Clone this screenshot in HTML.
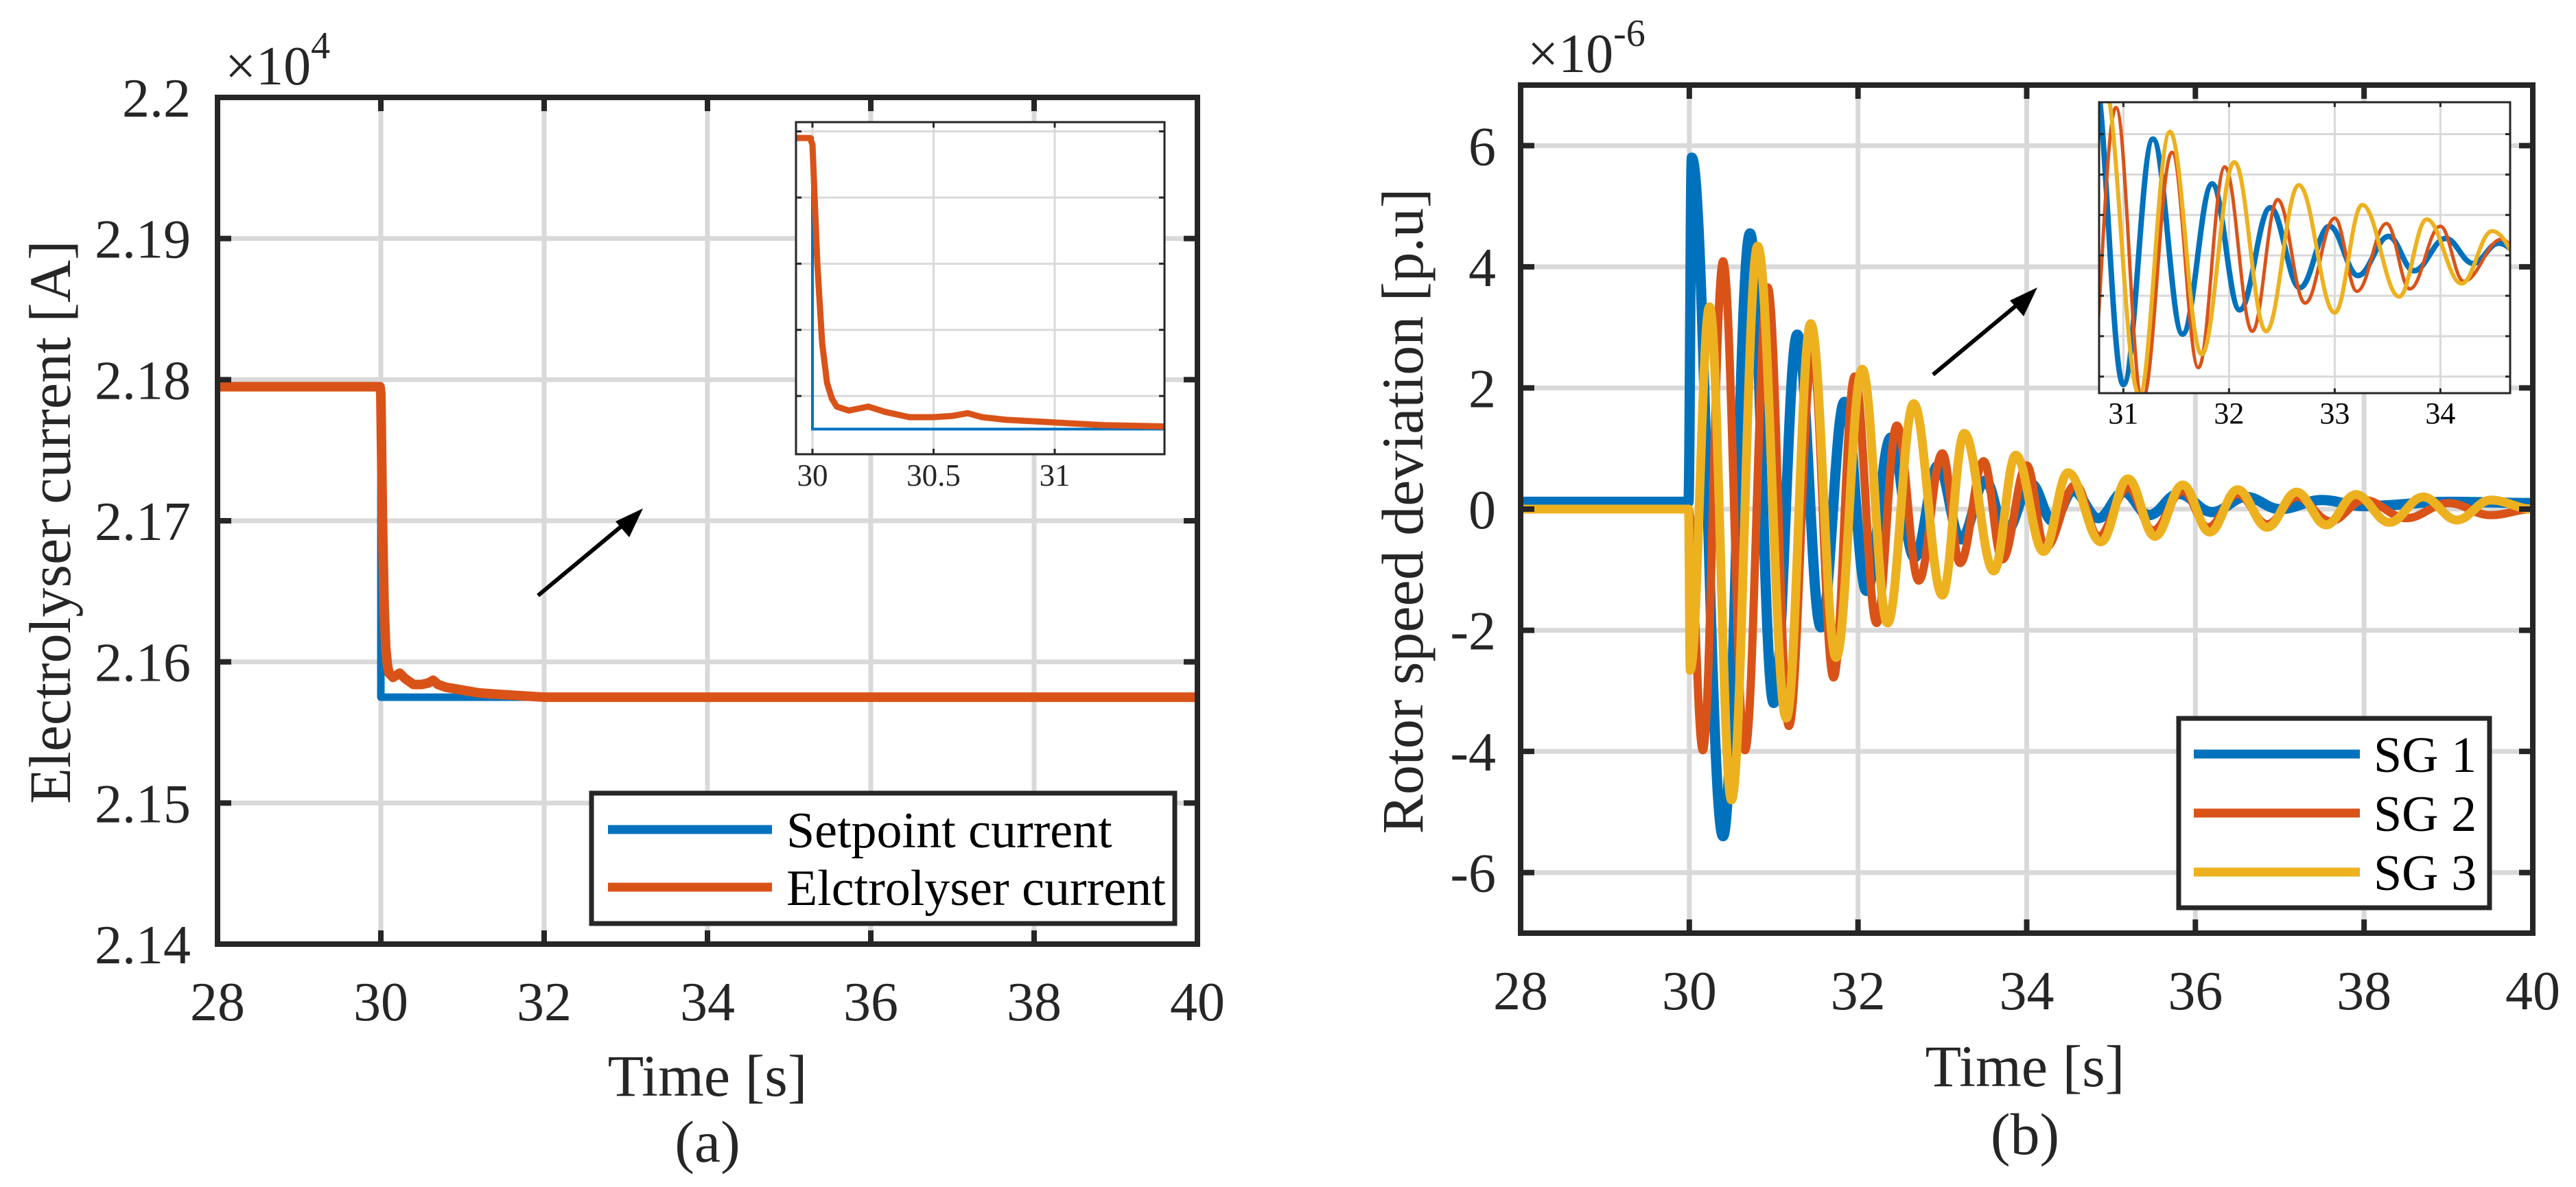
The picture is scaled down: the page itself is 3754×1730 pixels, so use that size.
<!DOCTYPE html>
<html><head><meta charset="utf-8">
<style>
html,body{margin:0;padding:0;background:#fff;}
svg{display:block;font-family:"Liberation Serif",serif;}
</style></head>
<body>
<svg id="fig" xmlns="http://www.w3.org/2000/svg" width="3754" height="1730" viewBox="0 0 3754 1730">
<defs>
<clipPath id="clipA"><rect x="317" y="142" width="1428" height="1234"/></clipPath>
<clipPath id="clipAi"><rect x="1160" y="178" width="537" height="484"/></clipPath>
<clipPath id="clipB"><rect x="2216" y="124" width="1475" height="1236"/></clipPath>
<clipPath id="clipBi"><rect x="3059" y="149" width="599" height="424"/></clipPath>
</defs>
<g id="panelA"></g>
<g id="panelB"></g>
</svg>
<script>
// ---------- Panel (a) data ----------
const aXTicks = [28, 30, 32, 34, 36, 38, 40];
const aYTicks = [2.14, 2.15, 2.16, 2.17, 2.18, 2.19, 2.2];
const aYTickLabels = ["2.14", "2.15", "2.16", "2.17", "2.18", "2.19", "2.2"];
const aInsetXTicks = [30, 30.5, 31];
const aInsetXTickLabels = ["30", "30.5", "31"];
const aInsetYGrid = [21600, 21650, 21700, 21750, 21800];
const setpointT = [28, 30.0, 30.0, 40];
const setpointV = [21795, 21795, 21575, 21575];
const elecT = [28, 29.99, 30.0, 30.02, 30.04, 30.06, 30.08, 30.1, 30.15, 30.23, 30.3, 30.4, 30.5, 30.58, 30.64, 30.7, 30.8, 31.0, 31.2, 31.45, 32.0, 40];
const elecV = [21795, 21795, 21790, 21700, 21640, 21610, 21598, 21592, 21589, 21592, 21588, 21584, 21584, 21585, 21587, 21584, 21582, 21580, 21578, 21577, 21575, 21575];

// ---------- Panel (b) data ----------
const bXTicks = [28, 30, 32, 34, 36, 38, 40];
const bYTicks = [-6, -4, -2, 0, 2, 4, 6];
const bYTickLabels = ["-6", "-4", "-2", "0", "2", "4", "6"];
const bInsetXTicks = [31, 32, 33, 34];
const bInsetYGrid = [-3, -2, -1, 0, 1, 2, 3];
const sg1T = [28, 29, 29.99, 30.03, 30.4, 30.72, 31.0, 31.28, 31.56, 31.84, 32.1, 32.39, 32.67, 32.95, 33.22, 33.51, 33.75, 34.05, 34.31, 34.55, 34.85, 35.15, 35.45, 35.8, 36.2, 36.6, 37.0, 37.5, 38, 39, 40];
const sg1V = [0.12, 0.12, 0.12, 5.8, -5.4, 4.55, -3.2, 2.88, -1.95, 1.77, -1.35, 1.18, -0.8, 0.72, -0.5, 0.47, -0.38, 0.42, -0.2, 0.3, -0.15, 0.28, -0.1, 0.25, -0.05, 0.2, 0.0, 0.15, 0.05, 0.12, 0.1];
const sg2T = [28, 29.99, 30.16, 30.4, 30.66, 30.93, 31.18, 31.46, 31.71, 31.96, 32.22, 32.46, 32.72, 33.0, 33.21, 33.49, 33.71, 34.0, 34.22, 34.58, 34.85, 35.2, 35.5, 35.85, 36.15, 36.5, 36.85, 37.2, 37.6, 38.0, 38.5, 39.0, 39.5, 40];
const sg2V = [0, 0, -3.98, 4.09, -3.98, 3.66, -3.58, 2.55, -2.78, 2.19, -1.88, 1.38, -1.18, 0.92, -0.89, 0.79, -0.83, 0.72, -0.64, 0.4, -0.45, 0.35, -0.35, 0.3, -0.3, 0.25, -0.25, 0.2, -0.2, 0.15, -0.15, 0.1, -0.1, 0];
const sg3T = [28, 29.99, 30.01, 30.24, 30.5, 30.81, 31.15, 31.44, 31.74, 32.05, 32.35, 32.66, 33.0, 33.26, 33.61, 33.87, 34.2, 34.49, 34.88, 35.2, 35.52, 35.85, 36.17, 36.5, 36.85, 37.2, 37.55, 37.9, 38.3, 38.7, 39.1, 39.5, 40];
const sg3V = [0, 0, -2.66, 3.34, -4.8, 4.34, -3.45, 3.06, -2.45, 2.31, -1.88, 1.74, -1.42, 1.25, -1.02, 0.89, -0.7, 0.6, -0.54, 0.5, -0.45, 0.4, -0.38, 0.32, -0.3, 0.28, -0.26, 0.24, -0.22, 0.2, -0.18, 0.15, 0];

const NS = "http://www.w3.org/2000/svg";
const AX = "#262626", GRID = "#d9d9d9";
const BLUE = "#0072BD", ORANGE = "#D95319", YELLOW = "#EDB120";

function mk(parent, tag, attrs, text) {
  const e = document.createElementNS(NS, tag);
  for (const k in attrs) e.setAttribute(k, attrs[k]);
  if (text !== undefined) e.textContent = text;
  parent.appendChild(e);
  return e;
}
function lin(d0, d1, r0, r1) { return v => r0 + (v - d0) / (d1 - d0) * (r1 - r0); }

function polyPath(T, V, sx, sy) {
  return T.map((t, i) => (i ? "L" : "M") + sx(t).toFixed(1) + "," + sy(V[i]).toFixed(1)).join("");
}
// smooth curve through extrema: horizontal tangents at every data point
function smoothPath(T, V, sx, sy) {
  const p = T.map((t, i) => [sx(t), sy(V[i])]);
  let d = "M" + p[0][0].toFixed(1) + "," + p[0][1].toFixed(1);
  for (let i = 0; i < p.length - 1; i++) {
    const p1 = p[i], p2 = p[i + 1], dx = (p2[0] - p1[0]) / 2.6;
    d += "C" + (p1[0] + dx).toFixed(1) + "," + p1[1].toFixed(1) + " " + (p2[0] - dx).toFixed(1) + "," + p2[1].toFixed(1) + " " + p2[0].toFixed(1) + "," + p2[1].toFixed(1);
  }
  return d;
}

// ================= PANEL A =================
(function () {
  const g = document.getElementById("panelA");
  const L = 317, R = 1745, T = 142, B = 1376;
  const sx = lin(28, 40, L, R), sy = lin(2.14, 2.2, B, T);
  const syc = v => sy(v / 1e4);
  aXTicks.forEach(t => {
    const l = mk(g, "line", { x1: sx(t), x2: sx(t), y1: T, y2: B, stroke: GRID, "stroke-width": 7 });
    
    
  });
  aYTicks.forEach(v => {
    const l = mk(g, "line", { x1: L, x2: R, y1: sy(v), y2: sy(v), stroke: GRID, "stroke-width": 7 });
    
    
  });
  const dg = mk(g, "g", { "clip-path": "url(#clipA)" });
  
  
  const s1 = mk(dg, "path", { d: polyPath(setpointT, setpointV, sx, syc), fill: "none", stroke: BLUE, "stroke-width": 11, "stroke-linejoin": "round" });
  
  
  const s2 = mk(dg, "path", { d: polyPath(elecT, elecV, sx, syc), fill: "none", stroke: ORANGE, "stroke-width": 14, "stroke-linejoin": "round" });
  
  
  const bx = mk(g, "rect", { x: L, y: T, width: R - L, height: B - T, fill: "none", stroke: AX, "stroke-width": 8 });
  
  
  aXTicks.forEach(t => {
    mk(g, "line", { x1: sx(t), x2: sx(t), y1: B, y2: B - 20, stroke: AX, "stroke-width": 8 });
    mk(g, "line", { x1: sx(t), x2: sx(t), y1: T, y2: T + 20, stroke: AX, "stroke-width": 8 });
    const tl = mk(g, "text", { x: sx(t), y: 1487, "font-size": 80, fill: AX, "text-anchor": "middle" }, String(t));
    
    
  });
  aYTicks.forEach((v, i) => {
    mk(g, "line", { x1: L, x2: L + 20, y1: sy(v), y2: sy(v), stroke: AX, "stroke-width": 8 });
    mk(g, "line", { x1: R, x2: R - 20, y1: sy(v), y2: sy(v), stroke: AX, "stroke-width": 8 });
    const tl = mk(g, "text", { x: 278, y: sy(v) + 28, "font-size": 80, fill: AX, "text-anchor": "end" }, aYTickLabels[i]);
    
    
  });
  const ex = mk(g, "text", { x: 328, y: 123, "font-size": 80, fill: AX });
  
  
  mk(ex, "tspan", {}, "\u00d710");
  mk(ex, "tspan", { dy: -38, "font-size": 56 }, "4");
  const yl = mk(g, "text", { x: 0, y: 0, "font-size": 86, fill: AX, "text-anchor": "middle", transform: "translate(102,761) rotate(-90)" }, "Electrolyser current [A]");
  
  
  const xl = mk(g, "text", { x: 1031, y: 1597, "font-size": 86, fill: AX, "text-anchor": "middle" }, "Time [s]");
  
  
  const cap = mk(g, "text", { x: 1031, y: 1693, "font-size": 86, fill: AX, "text-anchor": "middle" }, "(a)");
  
  
  const ar = mk(g, "line", { x1: 784, y1: 868, x2: 920, y2: 755, stroke: "#000", "stroke-width": 6 });
  
  
  const ah = mk(g, "polygon", { points: "937,741 897,760 917,783", fill: "#000" });
  
  
  const iL = 1160, iR = 1697, iT = 178, iB = 662;
  const ix = lin(29.932, 31.453, iL, iR), iy = lin(21556, 21807, iB, iT);
  const ig = mk(g, "g", {});
  
  
  mk(ig, "rect", { x: iL, y: iT, width: iR - iL, height: iB - iT, fill: "#fff" });
  aInsetXTicks.forEach(t => mk(ig, "line", { x1: ix(t), x2: ix(t), y1: iT, y2: iB, stroke: GRID, "stroke-width": 3 }));
  aInsetYGrid.forEach(v => mk(ig, "line", { x1: iL, x2: iR, y1: iy(v), y2: iy(v), stroke: GRID, "stroke-width": 3 }));
  const idg = mk(ig, "g", { "clip-path": "url(#clipAi)" });
  const i1 = mk(idg, "path", { d: polyPath(setpointT, setpointV, ix, iy), fill: "none", stroke: BLUE, "stroke-width": 4 });
  
  
  const i2 = mk(idg, "path", { d: polyPath(elecT, elecV, ix, iy), fill: "none", stroke: ORANGE, "stroke-width": 9, "stroke-linejoin": "round" });
  
  
  mk(ig, "rect", { x: iL, y: iT, width: iR - iL, height: iB - iT, fill: "none", stroke: AX, "stroke-width": 3 });
  aInsetXTicks.forEach((t, i) => {
    mk(ig, "line", { x1: ix(t), x2: ix(t), y1: iB, y2: iB - 8, stroke: AX, "stroke-width": 3 });
    mk(ig, "line", { x1: ix(t), x2: ix(t), y1: iT, y2: iT + 8, stroke: AX, "stroke-width": 3 });
    const tl = mk(ig, "text", { x: ix(t), y: 708, "font-size": 45, fill: AX, "text-anchor": "middle" }, aInsetXTickLabels[i]);
    
    
  });
  aInsetYGrid.forEach(v => {
    mk(ig, "line", { x1: iL, x2: iL + 8, y1: iy(v), y2: iy(v), stroke: AX, "stroke-width": 3 });
    mk(ig, "line", { x1: iR, x2: iR - 8, y1: iy(v), y2: iy(v), stroke: AX, "stroke-width": 3 });
  });
  const lg = mk(g, "g", {});
  
  
  mk(lg, "rect", { x: 862, y: 1156, width: 850, height: 190, fill: "#fff", stroke: AX, "stroke-width": 7 });
  const e1 = mk(lg, "g", {});
  
  
  mk(e1, "line", { x1: 886, x2: 1125, y1: 1209, y2: 1209, stroke: BLUE, "stroke-width": 13 });
  mk(e1, "text", { x: 1146, y: 1235, "font-size": 74, fill: "#000" }, "Setpoint current");
  const e2 = mk(lg, "g", {});
  
  
  mk(e2, "line", { x1: 886, x2: 1125, y1: 1293, y2: 1293, stroke: ORANGE, "stroke-width": 13 });
  mk(e2, "text", { x: 1146, y: 1319, "font-size": 74, fill: "#000" }, "Elctrolyser current");
})();

// ================= PANEL B =================
(function () {
  const g = document.getElementById("panelB");
  const L = 2216, R = 3691, T = 124, B = 1360;
  const sx = lin(28, 40, L, R), sy = lin(-7, 7, B, T);
  bXTicks.forEach(t => {
    const l = mk(g, "line", { x1: sx(t), x2: sx(t), y1: T, y2: B, stroke: GRID, "stroke-width": 7 });
    
    
  });
  bYTicks.forEach(v => {
    const l = mk(g, "line", { x1: L, x2: R, y1: sy(v), y2: sy(v), stroke: GRID, "stroke-width": 7 });
    
    
  });
  const dg = mk(g, "g", { "clip-path": "url(#clipB)" });
  
  
  const l1 = mk(dg, "path", { d: smoothPath(sg1T, sg1V, sx, sy), fill: "none", stroke: BLUE, "stroke-width": 15, "stroke-linejoin": "round" });
  
  
  const l2 = mk(dg, "path", { d: smoothPath(sg2T, sg2V, sx, sy), fill: "none", stroke: ORANGE, "stroke-width": 12, "stroke-linejoin": "round" });
  
  
  const l3 = mk(dg, "path", { d: smoothPath(sg3T, sg3V, sx, sy), fill: "none", stroke: YELLOW, "stroke-width": 13, "stroke-linejoin": "round" });
  
  
  const bx = mk(g, "rect", { x: L, y: T, width: R - L, height: B - T, fill: "none", stroke: AX, "stroke-width": 8 });
  
  
  bXTicks.forEach(t => {
    mk(g, "line", { x1: sx(t), x2: sx(t), y1: B, y2: B - 20, stroke: AX, "stroke-width": 8 });
    mk(g, "line", { x1: sx(t), x2: sx(t), y1: T, y2: T + 20, stroke: AX, "stroke-width": 8 });
    const tl = mk(g, "text", { x: sx(t), y: 1471, "font-size": 80, fill: AX, "text-anchor": "middle" }, String(t));
    
    
  });
  bYTicks.forEach((v, i) => {
    mk(g, "line", { x1: L, x2: L + 20, y1: sy(v), y2: sy(v), stroke: AX, "stroke-width": 8 });
    mk(g, "line", { x1: R, x2: R - 20, y1: sy(v), y2: sy(v), stroke: AX, "stroke-width": 8 });
    const tl = mk(g, "text", { x: 2180, y: sy(v) + 28, "font-size": 80, fill: AX, "text-anchor": "end" }, bYTickLabels[i]);
    
    
  });
  const ex = mk(g, "text", { x: 2226, y: 105, "font-size": 80, fill: AX });
  
  
  mk(ex, "tspan", {}, "\u00d710");
  mk(ex, "tspan", { dy: -38, "font-size": 56 }, "-6");
  const yl = mk(g, "text", { x: 0, y: 0, "font-size": 86, fill: AX, "text-anchor": "middle", transform: "translate(2073,745) rotate(-90)" }, "Rotor speed deviation [p.u]");
  
  
  const xl = mk(g, "text", { x: 2951, y: 1583, "font-size": 86, fill: AX, "text-anchor": "middle" }, "Time [s]");
  
  
  const cap = mk(g, "text", { x: 2951, y: 1682, "font-size": 86, fill: AX, "text-anchor": "middle" }, "(b)");
  
  
  const ar = mk(g, "line", { x1: 2817, y1: 546, x2: 2953, y2: 433, stroke: "#000", "stroke-width": 6 });
  
  
  const ah = mk(g, "polygon", { points: "2969,419 2929,438 2949,461", fill: "#000" });
  
  
  const iL = 3059, iR = 3658, iT = 149, iB = 573;
  const ix = lin(30.77, 34.66, iL, iR), iy = lin(-3.41, 3.79, iB, iT);
  const ig = mk(g, "g", {});
  
  
  mk(ig, "rect", { x: iL, y: iT, width: iR - iL, height: iB - iT, fill: "#fff" });
  bInsetXTicks.forEach(t => mk(ig, "line", { x1: ix(t), x2: ix(t), y1: iT, y2: iB, stroke: GRID, "stroke-width": 3 }));
  bInsetYGrid.forEach(v => mk(ig, "line", { x1: iL, x2: iR, y1: iy(v), y2: iy(v), stroke: GRID, "stroke-width": 3 }));
  const idg = mk(ig, "g", { "clip-path": "url(#clipBi)" });
  const j1 = mk(idg, "path", { d: smoothPath(sg1T, sg1V, ix, iy), fill: "none", stroke: BLUE, "stroke-width": 8 });
  
  
  const j2 = mk(idg, "path", { d: smoothPath(sg2T, sg2V, ix, iy), fill: "none", stroke: ORANGE, "stroke-width": 5 });
  
  
  const j3 = mk(idg, "path", { d: smoothPath(sg3T, sg3V, ix, iy), fill: "none", stroke: YELLOW, "stroke-width": 6 });
  
  
  mk(ig, "rect", { x: iL, y: iT, width: iR - iL, height: iB - iT, fill: "none", stroke: AX, "stroke-width": 3 });
  bInsetXTicks.forEach(t => {
    mk(ig, "line", { x1: ix(t), x2: ix(t), y1: iB, y2: iB - 7, stroke: AX, "stroke-width": 3 });
    mk(ig, "line", { x1: ix(t), x2: ix(t), y1: iT, y2: iT + 7, stroke: AX, "stroke-width": 3 });
    const tl = mk(ig, "text", { x: ix(t), y: 617, "font-size": 44, fill: "#000", "text-anchor": "middle" }, String(t));
    
    
  });
  bInsetYGrid.forEach(v => {
    mk(ig, "line", { x1: iL, x2: iL + 7, y1: iy(v), y2: iy(v), stroke: AX, "stroke-width": 3 });
    mk(ig, "line", { x1: iR, x2: iR - 7, y1: iy(v), y2: iy(v), stroke: AX, "stroke-width": 3 });
  });
  const lg = mk(g, "g", {});
  
  
  mk(lg, "rect", { x: 3175, y: 1047, width: 453, height: 276, fill: "#fff", stroke: AX, "stroke-width": 7 });
  const names = ["SG 1", "SG 2", "SG 3"], cols = [BLUE, ORANGE, YELLOW], ys = [1099, 1185, 1271];
  for (let i = 0; i < 3; i++) {
    const e = mk(lg, "g", {});
    
    
    mk(e, "line", { x1: 3197, x2: 3439, y1: ys[i], y2: ys[i], stroke: cols[i], "stroke-width": 13 });
    mk(e, "text", { x: 3459, y: ys[i] + 26, "font-size": 74, fill: "#000" }, names[i]);
  }
})();
</script>
</body></html>
